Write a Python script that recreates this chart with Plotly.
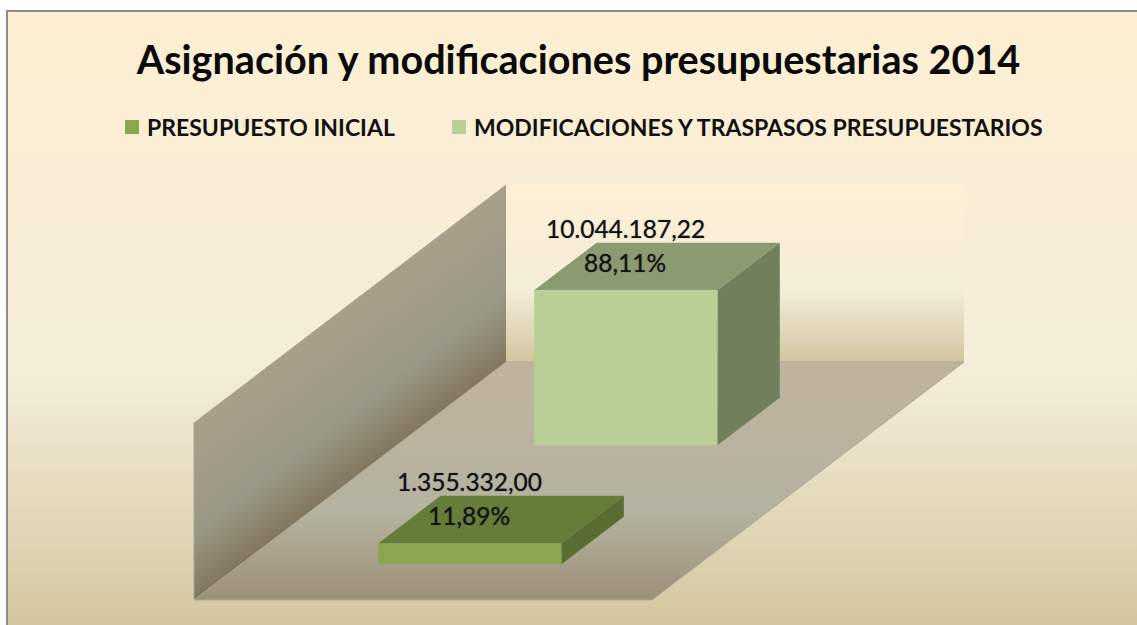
import plotly.graph_objects as go

# ---- data ----
categories = ["PRESUPUESTO INICIAL", "MODIFICACIONES Y TRASPASOS PRESUPUESTARIOS"]
values = [1355332.00, 10044187.22]
title_text = "Asignación y modificaciones presupuestarias 2014"
front_colors = ["#8AA64E", "#B9CF96"]
top_colors = ["#657D38", "#8B9A70"]
side_colors = ["#596D32", "#727F5C"]
axis_max = 11470000

# ---- oblique 3D projection onto pixel-like data space ----
ORIGIN = (194, 600)
WIDTH = 458
DEPTH = (312, -238)
HEIGHT = 177
BAR_U = (0.30, 0.70)
BAR_DEPTH = 0.20


def project(u, d, z):
    return (ORIGIN[0] + WIDTH * u + DEPTH[0] * d,
            ORIGIN[1] + DEPTH[1] * d - HEIGHT * z / axis_max)


def hex2rgb(c):
    return tuple(int(c[i:i + 2], 16) for i in (1, 3, 5))


def ramp(stops, t):
    for (a, ca), (b, cb) in zip(stops, stops[1:]):
        if t <= b:
            f = (t - a) / (b - a)
            ra, rb = hex2rgb(ca), hex2rgb(cb)
            return "rgb(%d,%d,%d)" % tuple(round(x + (y - x) * f) for x, y in zip(ra, rb))
    return stops[-1][1]


def es_number(v):
    return f"{v:,.2f}".replace(",", "X").replace(".", ",").replace("X", ".")


fig = go.Figure()


def poly(points, color=None, line=None, **kw):
    xs = [p[0] for p in points] + [points[0][0]]
    ys = [p[1] for p in points] + [points[0][1]]
    args = dict(x=xs, y=ys, mode="lines", fill="toself", hoverinfo="skip", showlegend=False,
                line=dict(width=1 if line else 0, color=line or "rgba(0,0,0,0)"))
    if color:
        args["fillcolor"] = color
    args.update(kw)
    fig.add_trace(go.Scatter(**args))


# chart background
bg_scale = [[0, "#FEEFD3"], [0.6, "#F3EDD8"], [1, "#D4C69F"]]
poly([(8, 12), (1137, 12), (1137, 625), (8, 625)],
     fillgradient=dict(type="vertical", colorscale=bg_scale, start=12, stop=625))

# back wall
wall_scale = [[0, "#FFEFD5"], [0.6, "#F3EDD8"], [0.72, "#E8E1C8"], [1, "#D2C49E"]]
poly([project(0, 1, axis_max), project(1, 1, axis_max), project(1, 1, 0), project(0, 1, 0)],
     fillgradient=dict(type="vertical", colorscale=wall_scale, start=185, stop=362))

# left wall: bands in height, painted from tallest to shortest
left_stops = [(0, "#827760"), (0.12, "#8B826D"), (0.38, "#9A9886"), (0.7, "#A39B89"), (1, "#A99F8B")]
N = 60
for i in range(N, 0, -1):
    z = axis_max * i / N
    poly([project(0, 0, 0), project(0, 0, z), project(0, 1, z), project(0, 1, 0)],
         color=ramp(left_stops, (i - 0.5) / N))
fig.add_trace(go.Scatter(
    x=[project(0, 0, 0)[0], project(0, 0, axis_max)[0], project(0, 1, axis_max)[0]],
    y=[project(0, 0, 0)[1], project(0, 0, axis_max)[1], project(0, 1, axis_max)[1]],
    mode="lines", line=dict(width=1, color="#A8A498"), hoverinfo="skip", showlegend=False))

# floor
floor_scale = [[0, "#C0B49E"], [0.46, "#B8B2A0"], [0.62, "#B5B3A1"], [0.81, "#AAA28D"], [1, "#9B8F77"]]
poly([project(0, 0, 0), project(1, 0, 0), project(1, 1, 0), project(0, 1, 0)],
     line="#ADA99C",
     fillgradient=dict(type="vertical", colorscale=floor_scale, start=362, stop=600))

# bars, back to front
n = len(values)
for i in reversed(range(n)):
    d0 = (i + 0.5) / n - BAR_DEPTH / 2
    d1 = d0 + BAR_DEPTH
    u0, u1 = BAR_U
    v = values[i]
    poly([project(u0, d0, v), project(u1, d0, v), project(u1, d1, v), project(u0, d1, v)], top_colors[i])
    poly([project(u1, d0, 0), project(u1, d1, 0), project(u1, d1, v), project(u1, d0, v)], side_colors[i])
    poly([project(u0, d0, 0), project(u1, d0, 0), project(u1, d0, v), project(u0, d0, v)], front_colors[i])

# legend entries, one legend box each so they can sit at their own positions
for name, col, lg in zip(categories, front_colors, ("legend", "legend2")):
    fig.add_trace(go.Scatter(x=[None], y=[None], mode="markers", name=name, legend=lg,
                             marker=dict(symbol="square", size=14, color=col, angle=90, standoff=5)))

# data labels
total = sum(values)
annotations = []
for i, v in enumerate(values):
    cx, cy = project(0.5, (i + 0.5) / n, v)
    for txt, yshift in ((es_number(v), 38), (f"{v / total * 100:.2f}%".replace(".", ","), 4)):
        annotations.append(dict(x=cx, y=cy, xref="x", yref="y", text=txt, showarrow=False,
                                xshift=-32, yshift=yshift, xanchor="center", yanchor="middle",
                                font=dict(family="Lato", size=24.5, color="#111111",
                                          shadow="0 0 1px rgba(0,0,0,0.55)")))

legend_common = dict(orientation="h", xanchor="left", y=1 - 127 / 625, yanchor="middle",
                     font=dict(family="Lato", size=23, color="#111111", weight="bold"),
                     bgcolor="rgba(0,0,0,0)", itemclick=False, itemdoubleclick=False)

fig.update_layout(
    width=1137, height=625, autosize=False,
    margin=dict(l=0, r=0, t=0, b=0),
    paper_bgcolor="white", plot_bgcolor="rgba(0,0,0,0)",
    xaxis=dict(range=[0, 1137], visible=False, fixedrange=True),
    yaxis=dict(range=[625, 0], visible=False, fixedrange=True),
    title=dict(text=title_text, x=578.5 / 1137, xanchor="center", y=1 - 60 / 625, yanchor="middle",
               font=dict(family="Lato", size=39.6, color="#0A0A0A", weight="bold")),
    legend=dict(x=107 / 1137, **legend_common),
    legend2=dict(x=434 / 1137, **legend_common),
    annotations=annotations,
    shapes=[dict(type="rect", xref="x", yref="y", x0=7, y0=11, x1=1150, y1=640,
                 line=dict(color="#8C8C8C", width=2), layer="above")],
)

fig.write_html("out.html", config={"displayModeBar": False},
               post_script="document.body.style.margin='0';document.body.style.overflow='hidden';")
